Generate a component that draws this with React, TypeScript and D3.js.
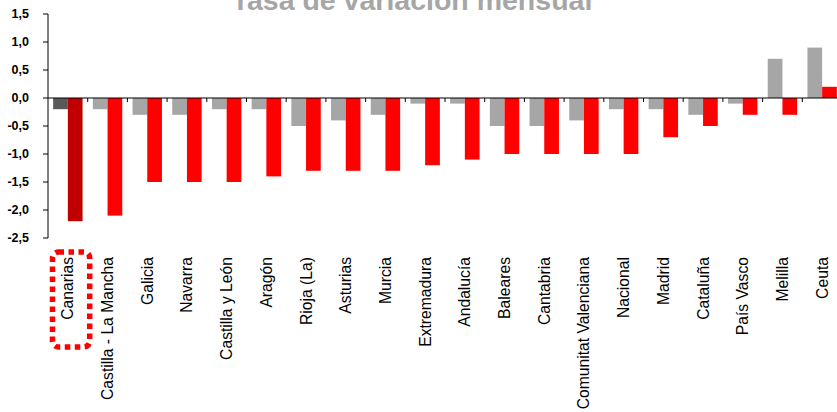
import { scaleBand, scaleLinear } from "d3";

const REGIONS = [
  "Canarias",
  "Castilla - La Mancha",
  "Galicia",
  "Navarra",
  "Castilla y León",
  "Aragón",
  "Rioja (La)",
  "Asturias",
  "Murcia",
  "Extremadura",
  "Andalucía",
  "Baleares",
  "Cantabria",
  "Comunitat Valenciana",
  "Nacional",
  "Madrid",
  "Cataluña",
  "País Vasco",
  "Melilla",
  "Ceuta",
];

// serie gris (mes anterior) y serie roja (mes actual)
const PREV = [
  -0.2, -0.2, -0.3, -0.3, -0.2, -0.2, -0.5, -0.4, -0.3, -0.1, -0.1, -0.5,
  -0.5, -0.4, -0.2, -0.2, -0.3, -0.1, 0.7, 0.9,
];
const CURR = [
  -2.2, -2.1, -1.5, -1.5, -1.5, -1.4, -1.3, -1.3, -1.3, -1.2, -1.1, -1.0,
  -1.0, -1.0, -1.0, -0.7, -0.5, -0.3, -0.3, 0.2,
];

const Y_TICKS = [1.5, 1.0, 0.5, 0.0, -0.5, -1.0, -1.5, -2.0, -2.5];
const HIGHLIGHT = "Canarias";

const W = 837;
const H = 412;
const FONT = "'Liberation Sans', Arial, sans-serif";

const x = scaleBand<string>()
  .domain(REGIONS)
  .range([48, 48 + REGIONS.length * 39.7]);

const inner = scaleBand<string>()
  .domain(["prev", "curr"])
  .range([0, x.bandwidth()])
  .paddingOuter(0.35);

const y = scaleLinear().domain([-2.5, 1.5]).range([238, 14]);

const fmt = (v: number) => v.toFixed(1).replace(".", ",");

export default function App() {
  const y0 = y(0);
  const hx = x(HIGHLIGHT)!;
  return (
    <svg
      width={W}
      height={H}
      style={{ position: "absolute", left: 0, top: 0, background: "#fff" }}
      fontFamily={FONT}
    >
      <text
        x={412}
        y={9.5}
        textAnchor="middle"
        fontSize={28.5}
        fontWeight="bold"
        fill="#A6A6A6"
      >
        Tasa de variación mensual
      </text>

      {/* barras */}
      {REGIONS.map((r, i) => {
        const hl = r === HIGHLIGHT;
        const bx = x(r)!;
        const p = PREV[i];
        const c = CURR[i];
        return (
          <g key={r}>
            <rect
              x={bx + inner("prev")!}
              y={Math.min(y(p), y0)}
              width={inner.bandwidth()}
              height={Math.abs(y(p) - y0)}
              fill={hl ? "#595959" : "#A6A6A6"}
            />
            <rect
              x={bx + inner("curr")!}
              y={Math.min(y(c), y0)}
              width={inner.bandwidth()}
              height={Math.abs(y(c) - y0)}
              fill={hl ? "#C00000" : "#FF0000"}
            />
          </g>
        );
      })}

      {/* eje Y */}
      <line x1={48} x2={48} y1={y(1.5)} y2={y(-2.5)} stroke="#000" />
      {Y_TICKS.map((t) => (
        <g key={t}>
          <line x1={43} x2={48} y1={y(t)} y2={y(t)} stroke="#000" />
          <text
            x={29}
            y={y(t)}
            dy="0.35em"
            textAnchor="end"
            fontSize={12.5}
            fontWeight="bold"
          >
            {fmt(t)}
          </text>
        </g>
      ))}

      {/* eje X en el cero */}
      <line x1={48} x2={W} y1={y0} y2={y0} stroke="#000" strokeWidth={1.2} />
      {REGIONS.map((r) => (
        <line
          key={r}
          x1={x(r)! + x.bandwidth()}
          x2={x(r)! + x.bandwidth()}
          y1={y0}
          y2={y0 + 4}
          stroke="#000"
        />
      ))}

      {REGIONS.map((r) => {
        const cx = x(r)! + x.bandwidth() / 2;
        return (
          <text
            key={r}
            transform={`translate(${cx},257) rotate(-90)`}
            dy="0.35em"
            textAnchor="end"
            fontSize={15.7}
          >
            {r}
          </text>
        );
      })}

      {/* recuadro punteado sobre Canarias */}
      <rect
        x={hx + 4.5}
        y={252}
        width={37.2}
        height={95}
        rx={6}
        fill="none"
        stroke="#FF0000"
        strokeWidth={5.5}
        strokeDasharray="5.5 4.5"
      />
    </svg>
  );
}
